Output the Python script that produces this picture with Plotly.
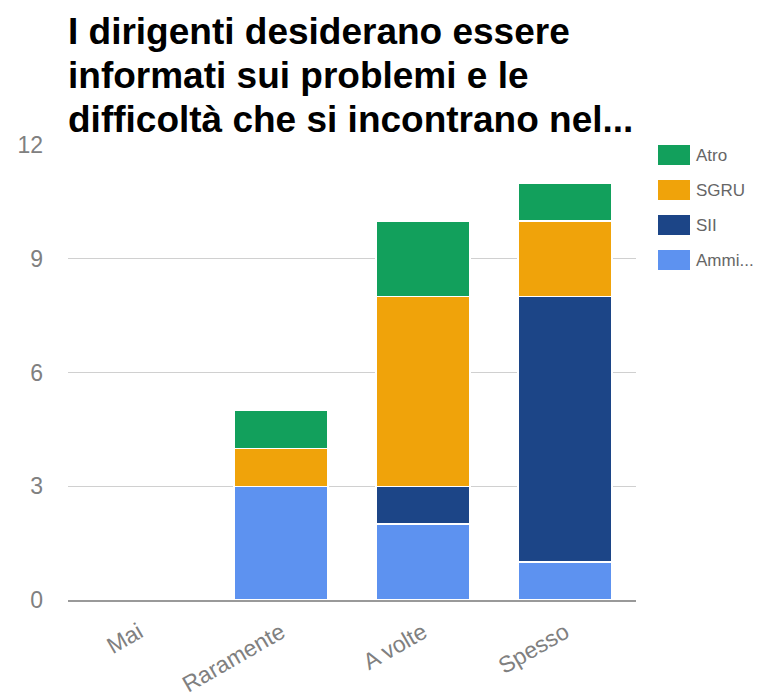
import plotly.graph_objects as go

# Survey answers (counts) per frequency category, split by group
categories = ["Mai", "Raramente", "A volte", "Spesso"]
series_names = ["Ammi...", "SII", "SGRU", "Atro"]
ammi = [0, 3, 2, 1]
sii = [0, 0, 1, 7]
sgru = [0, 1, 5, 2]
atro = [0, 1, 2, 1]
series_values = [ammi, sii, sgru, atro]
series_colors = ["#5d92f0", "#1c4587", "#f0a30a", "#12a05c"]

title_lines = [
    "I dirigenti desiderano essere",
    "informati sui problemi e le",
    "difficoltà che si incontrano nel...",
]
y_ticks = [0, 3, 6, 9, 12]

W, H = 782, 696
M_L, M_R, M_T, M_B = 68, 146, 145, 96
PW, PH = W - M_L - M_R, H - M_T - M_B


def px_x(px):
    return (px - M_L) / PW


def px_y(py):
    return (H - M_B - py) / PH


fig = go.Figure()
for name, vals, color in zip(series_names, series_values, series_colors):
    fig.add_trace(go.Bar(
        x=categories, y=vals, name=name,
        marker=dict(color=color, line=dict(color="white", width=1.5)),
        showlegend=False,
    ))

# Title, one annotation per line
title_baselines = [45, 89, 133]
for line, base in zip(title_lines, title_baselines):
    fig.add_annotation(
        text=f"<b>{line}</b>", xref="paper", yref="paper",
        x=px_x(66), y=px_y(base + 9), xanchor="left", yanchor="bottom",
        showarrow=False,
        font=dict(family="Liberation Sans, Arial", size=37, color="#000000"),
    )

# Legend: stacked order reversed, top to bottom
legend_rows = [155, 190, 225, 260]
for (name, color), cy in zip(list(zip(series_names, series_colors))[::-1], legend_rows):
    fig.add_shape(type="rect", xref="paper", yref="paper",
                  x0=px_x(658), x1=px_x(690), y0=px_y(cy + 10), y1=px_y(cy - 10),
                  fillcolor=color, line=dict(width=0))
    fig.add_annotation(text=name, xref="paper", yref="paper",
                       x=px_x(694), y=px_y(cy), xanchor="left", yanchor="middle",
                       showarrow=False,
                       font=dict(family="Liberation Sans, Arial", size=17, color="#666666"))

fig.update_layout(
    barmode="stack",
    bargap=0.34,
    width=W, height=H,
    margin=dict(l=M_L, r=M_R, t=M_T, b=M_B),
    paper_bgcolor="white", plot_bgcolor="white",
    font=dict(family="Liberation Sans, Arial", color="#777777"),
)
fig.update_yaxes(
    range=[0, 12], tickvals=y_ticks, showgrid=True, gridcolor="#d0d0d0", gridwidth=1,
    zeroline=False, tickfont=dict(size=23, color="#808080"), ticklabelstandoff=24,
    automargin=False,
)
fig.update_xaxes(
    tickangle=-30, tickfont=dict(size=23, color="#808080"),
    showline=True, linecolor="#999999", linewidth=2, ticklabelstandoff=8,
    automargin=False,
)

fig.write_html("out.html")
